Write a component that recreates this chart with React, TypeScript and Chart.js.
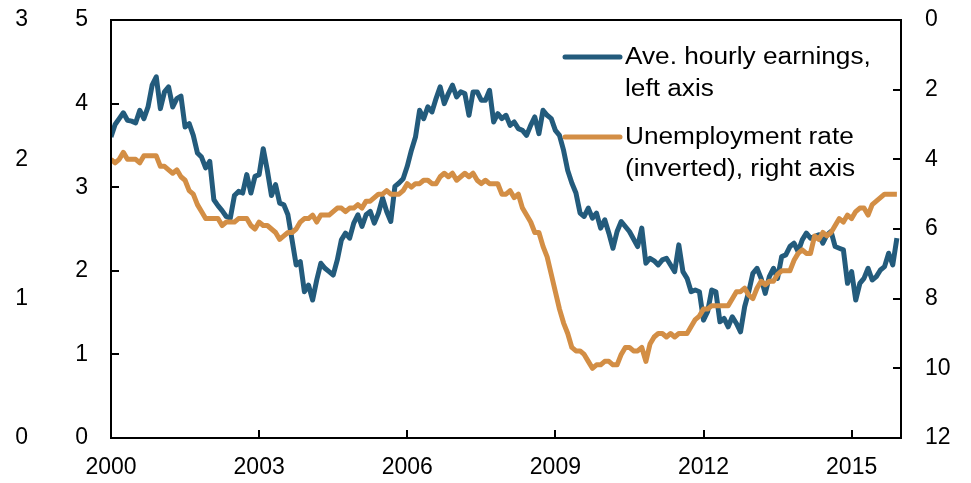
import React, { useEffect, useRef } from "react";
import { Chart, registerables } from "chart.js";

Chart.register(...registerables);

// Monthly observations, Jan 2000 .. Dec 2015
const startYear = 2000;

// Average hourly earnings growth, % y/y (left axis)
const earnings = [
  3.60, 3.75, 3.82, 3.89, 3.80, 3.79, 3.77, 3.92, 3.82, 3.96, 4.22, 4.32,
  3.94, 4.14, 4.20, 3.96, 4.06, 4.09, 3.72, 3.76, 3.62, 3.41, 3.36, 3.23,
  3.31, 2.85, 2.78, 2.72, 2.65, 2.63, 2.90, 2.95, 2.93, 3.15, 2.93, 3.13,
  3.15, 3.46, 3.20, 2.90, 3.03, 2.81, 2.79, 2.67, 2.37, 2.07, 2.11, 1.75,
  1.83, 1.65, 1.89, 2.09, 2.03, 1.99, 1.95, 2.13, 2.37, 2.45, 2.39, 2.57,
  2.67, 2.53, 2.67, 2.71, 2.57, 2.69, 2.87, 2.71, 2.59, 3.01, 3.05, 3.10,
  3.25, 3.44, 3.60, 3.92, 3.82, 3.96, 3.90, 4.06, 4.20, 4.00, 4.12, 4.22,
  4.08, 4.14, 4.12, 3.86, 4.14, 4.14, 4.04, 4.04, 4.16, 3.78, 3.88, 3.82,
  3.86, 3.74, 3.78, 3.70, 3.68, 3.62, 3.74, 3.84, 3.64, 3.92, 3.86, 3.82,
  3.68, 3.62, 3.44, 3.20, 3.05, 2.93, 2.69, 2.65, 2.75, 2.63, 2.69, 2.51,
  2.61, 2.45, 2.27, 2.47, 2.59, 2.53, 2.47, 2.38, 2.29, 2.51, 2.09, 2.15,
  2.12, 2.07, 2.13, 2.15, 2.07, 1.99, 2.31, 1.99, 1.91, 1.75, 1.77, 1.75,
  1.41, 1.51, 1.77, 1.75, 1.39, 1.43, 1.33, 1.45, 1.37, 1.27, 1.57, 1.75,
  1.97, 2.03, 1.91, 1.73, 1.93, 2.03, 1.91, 2.17, 2.19, 2.29, 2.33, 2.23,
  2.37, 2.45, 2.39, 2.41, 2.43, 2.33, 2.43, 2.47, 2.29, 2.27, 2.25, 1.85,
  1.99, 1.65, 1.85, 1.91, 2.03, 1.89, 1.93, 2.01, 2.05, 2.21, 2.07, 2.39,
];

// Unemployment rate, % (right axis, inverted)
const unemployment = [
  4.0, 4.1, 4.0, 3.8, 4.0, 4.0, 4.0, 4.1, 3.9, 3.9, 3.9, 3.9,
  4.2, 4.2, 4.3, 4.4, 4.3, 4.5, 4.6, 4.9, 5.0, 5.3, 5.5, 5.7,
  5.7, 5.7, 5.7, 5.9, 5.8, 5.8, 5.8, 5.7, 5.7, 5.7, 5.9, 6.0,
  5.8, 5.9, 5.9, 6.0, 6.1, 6.3, 6.2, 6.1, 6.1, 6.0, 5.8, 5.7,
  5.7, 5.6, 5.8, 5.6, 5.6, 5.6, 5.5, 5.4, 5.4, 5.5, 5.4, 5.4,
  5.3, 5.4, 5.2, 5.2, 5.1, 5.0, 5.0, 4.9, 5.0, 5.0, 5.0, 4.9,
  4.7, 4.8, 4.7, 4.7, 4.6, 4.6, 4.7, 4.7, 4.5, 4.4, 4.5, 4.4,
  4.6, 4.5, 4.4, 4.5, 4.4, 4.6, 4.7, 4.6, 4.7, 4.7, 4.7, 5.0,
  5.0, 4.9, 5.1, 5.0, 5.4, 5.6, 5.8, 6.1, 6.1, 6.5, 6.8, 7.3,
  7.8, 8.3, 8.7, 9.0, 9.4, 9.5, 9.5, 9.6, 9.8, 10.0, 9.9, 9.9,
  9.8, 9.8, 9.9, 9.9, 9.6, 9.4, 9.4, 9.5, 9.5, 9.4, 9.8, 9.3,
  9.1, 9.0, 9.0, 9.1, 9.0, 9.1, 9.0, 9.0, 9.0, 8.8, 8.6, 8.5,
  8.3, 8.3, 8.2, 8.2, 8.2, 8.2, 8.2, 8.0, 7.8, 7.8, 7.7, 7.9,
  8.0, 7.7, 7.5, 7.6, 7.5, 7.5, 7.3, 7.2, 7.2, 7.2, 6.9, 6.7,
  6.6, 6.7, 6.7, 6.2, 6.3, 6.1, 6.2, 6.1, 5.9, 5.7, 5.8, 5.6,
  5.7, 5.5, 5.4, 5.4, 5.6, 5.3, 5.2, 5.1, 5.0, 5.0, 5.0, 5.0,
];

const xTickYears = [2000, 2003, 2006, 2009, 2012, 2015];
const leftTicks = [0, 1, 2, 3, 4, 5];
const rightTicks = [0, 2, 4, 6, 8, 10, 12];
const outerTicks = [0, 1, 2, 3];

const seriesNames = [
  ["Ave. hourly earnings,", "left axis"],
  ["Unemployment rate", "(inverted), right axis"],
];

const BLUE = "#235b7c";
const ORANGE = "#d38e45";
const FONT = "'Liberation Sans', Arial, sans-serif";
const FONT_SIZE = 23;

const framePlugin = {
  id: "frameAndLegend",
  afterDatasetsDraw(chart: any) {
    const { ctx, chartArea: a, scales } = chart;
    ctx.save();
    ctx.strokeStyle = "#000";
    ctx.lineWidth = 2;
    ctx.strokeRect(a.left, a.top, a.right - a.left, a.bottom - a.top);
    ctx.beginPath();
    const tl = 8;
    leftTicks.forEach((v) => {
      if (v <= leftTicks[0] || v >= leftTicks[leftTicks.length - 1]) return;
      const y = Math.round(scales.y.getPixelForValue(v));
      ctx.moveTo(a.left, y);
      ctx.lineTo(a.left + tl, y);
    });
    rightTicks.forEach((v) => {
      if (v <= rightTicks[0] || v >= rightTicks[rightTicks.length - 1]) return;
      const y = Math.round(scales.y2.getPixelForValue(v));
      ctx.moveTo(a.right, y);
      ctx.lineTo(a.right - tl, y);
    });
    xTickYears.forEach((v) => {
      const x = Math.round(scales.x.getPixelForValue(v));
      if (x <= a.left + 1 || x >= a.right - 1) return;
      ctx.moveTo(x, a.bottom);
      ctx.lineTo(x, a.bottom - tl);
    });
    ctx.stroke();

    // legend
    const colors = [BLUE, ORANGE];
    const lx0 = a.left + 454;
    const lx1 = a.left + 509;
    const tx = a.left + 514;
    const rows = [a.top + 37, a.top + 117];
    const stretch = 1.14;
    ctx.font = `${FONT_SIZE}px ${FONT}`;
    ctx.fillStyle = "#000";
    ctx.textBaseline = "middle";
    ctx.textAlign = "left";
    seriesNames.forEach((lines, i) => {
      const y0 = rows[i];
      ctx.strokeStyle = colors[i];
      ctx.lineWidth = 5;
      ctx.lineCap = "round";
      ctx.beginPath();
      ctx.moveTo(lx0, y0);
      ctx.lineTo(lx1, y0);
      ctx.stroke();
      lines.forEach((t, j) => {
        ctx.save();
        ctx.translate(tx, y0 + 1 + j * 31.5);
        ctx.scale(stretch, 1);
        ctx.fillText(t, 0, 0);
        ctx.restore();
      });
    });
    ctx.restore();
  },
};

const noPad = (s: any) => {
  s.paddingTop = 0;
  s.paddingBottom = 0;
  s.paddingLeft = 0;
  s.paddingRight = 0;
};

export default function App() {
  const ref = useRef<HTMLCanvasElement | null>(null);
  useEffect(() => {
    if (!ref.current) return;
    Chart.defaults.font.family = FONT;
    Chart.defaults.font.size = FONT_SIZE;
    Chart.defaults.color = "#000";
    const chart = new Chart(ref.current, {
      type: "line",
      data: {
        datasets: [
          {
            label: seriesNames[1].join(" "),
            data: unemployment.map((v, i) => ({ x: startYear + i / 12, y: v })),
            borderColor: ORANGE,
            borderWidth: 5,
            pointRadius: 0,
            tension: 0,
            yAxisID: "y2",
            borderJoinStyle: "round",
          },
          {
            label: seriesNames[0].join(" "),
            data: earnings.map((v, i) => ({ x: startYear + i / 12, y: v })),
            borderColor: BLUE,
            borderWidth: 5,
            pointRadius: 0,
            tension: 0,
            yAxisID: "y",
            borderJoinStyle: "round",
          },
        ],
      },
      options: {
        responsive: false,
        animation: false,
        events: [],
        layout: { autoPadding: false, padding: { top: 12, left: 0, right: 0, bottom: 0 } },
        plugins: { legend: { display: false }, tooltip: { enabled: false } },
        scales: {
          x: {
            type: "linear",
            min: 2000,
            max: 2016,
            grid: { display: false, drawTicks: false },
            border: { display: false },
            ticks: { padding: 16, maxRotation: 0, autoSkip: false, callback: (v: any) => String(v) },
            afterBuildTicks: (s: any) => {
              s.ticks = xTickYears.map((v) => ({ value: v }));
            },
            afterFit: (s: any) => {
              s.height = 37;
              noPad(s);
            },
          },
          y: {
            position: "left",
            weight: 0,
            min: 0,
            max: 5,
            grid: { display: false, drawTicks: false },
            border: { display: false },
            ticks: { padding: 23, callback: (v: any) => String(v) },
            afterBuildTicks: (s: any) => {
              s.ticks = leftTicks.map((v) => ({ value: v }));
            },
            afterFit: (s: any) => {
              s.width = 48;
              noPad(s);
            },
          },
          y3: {
            position: "left",
            weight: 1,
            min: 0,
            max: 3,
            grid: { display: false, drawTicks: false },
            border: { display: false },
            ticks: { padding: 35, callback: (v: any) => String(v) },
            afterBuildTicks: (s: any) => {
              s.ticks = outerTicks.map((v) => ({ value: v }));
            },
            afterFit: (s: any) => {
              s.width = 55;
              noPad(s);
            },
          },
          y2: {
            position: "right",
            min: 0,
            max: 12,
            reverse: true,
            grid: { display: false, drawTicks: false },
            border: { display: false },
            ticks: { padding: 24, callback: (v: any) => String(v) },
            afterBuildTicks: (s: any) => {
              s.ticks = rightTicks.map((v) => ({ value: v }));
            },
            afterFit: (s: any) => {
              s.width = 62;
              noPad(s);
            },
          },
        },
      },
      plugins: [framePlugin],
    } as any);
    return () => chart.destroy();
  }, []);
  return (
    <div style={{ width: 955, height: 467 }}>
      <canvas ref={ref} width={955} height={467} style={{ display: "block" }} />
    </div>
  );
}
